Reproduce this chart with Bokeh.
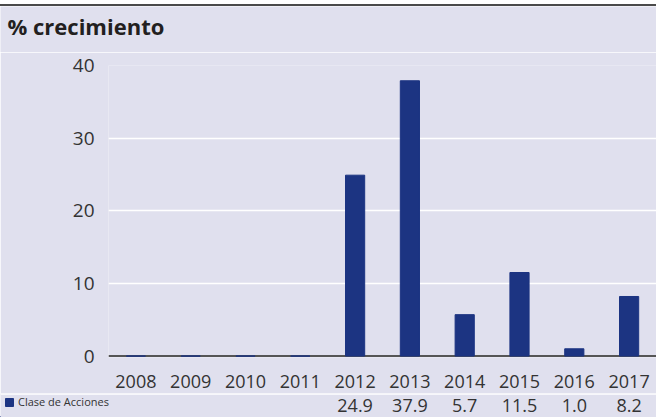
from bokeh.plotting import figure
from bokeh.layouts import column
from bokeh.models import (Range1d, FixedTicker, Span, Legend, LegendItem,
                          ColumnDataSource, Label)
from bokeh.core.properties import value
from bokeh.embed import file_html
from bokeh.resources import INLINE

# ---- data ----
anios = ["2008", "2009", "2010", "2011", "2012", "2013", "2014", "2015", "2016", "2017"]
valores = [None, None, None, None, 24.9, 37.9, 5.7, 11.5, 1.0, 8.2]
serie = "Clase de Acciones"
titulo = "% crecimiento"
y_ticks = [0, 10, 20, 30, 40]

# ---- styles / layout ----
BG = "#e0e0ee"
NAVY = "#1c3482"
TXT = "#333333"
FONT = "Open Sans"
W = 656
LEFT = 108
UNIT = (W - LEFT) / 10.0
TOP_H = 46

pos = list(range(len(anios)))
alturas = [v if v is not None else 0 for v in valores]
etiquetas = ["" if v is None else f"{v:.1f}" for v in valores]

src = ColumnDataSource(dict(x=pos, top=alturas, lab=etiquetas))


def strip(h, xr):
    f = figure(width=W, height=h, output_backend="svg", toolbar_location=None,
               x_range=xr, y_range=Range1d(0, h),
               min_border_left=0, min_border_right=0,
               min_border_top=0, min_border_bottom=0,
               background_fill_color=BG, border_fill_color=BG,
               outline_line_color=None, x_axis_type=None, y_axis_type=None)
    f.frame_align = False
    f.grid.grid_line_color = None
    return f


# ================= title row =================
t = strip(TOP_H, Range1d(0, W))
t.add_layout(Label(x=7, y=27, text=titulo, text_font=FONT,
                   text_font_style="bold", text_font_size="22px",
                   text_color="#231f20", text_baseline="middle"))

# ================= main chart =================
p = figure(width=W, height=341, output_backend="svg", toolbar_location=None,
           x_range=Range1d(-0.5, 9.5), y_range=Range1d(-0.2, 40),
           min_border_left=LEFT, min_border_right=0,
           min_border_top=13, min_border_bottom=36,
           background_fill_color=BG, border_fill_color=BG,
           outline_line_color=None)
p.frame_align = False

p.xgrid.grid_line_color = None
p.ygrid.ticker = FixedTicker(ticks=[v for v in y_ticks if v != 0])
p.ygrid.grid_line_color = "white"
p.ygrid.grid_line_width = 1.5

p.add_layout(Span(location=0, dimension="width", line_color="#555555",
                  line_width=2, level="underlay"))

r = p.vbar(x="x", top="top", bottom=0, width=0.35, source=src,
           fill_color=NAVY, line_color=NAVY, line_width=1)

ya = p.yaxis[0]
ya.ticker = FixedTicker(ticks=y_ticks)
ya.axis_line_color = None
ya.major_tick_line_color = None
ya.minor_tick_line_color = None
ya.major_tick_out = 0
ya.major_tick_in = 0
ya.major_label_standoff = 14
ya.major_label_text_font = FONT
ya.major_label_text_font_size = "19px"
ya.major_label_text_color = TXT

xa = p.xaxis[0]
xa.ticker = FixedTicker(ticks=pos)
xa.major_label_overrides = {i: a for i, a in zip(pos, anios)}
xa.axis_line_color = None
xa.major_tick_line_color = None
xa.minor_tick_line_color = None
xa.major_tick_out = 0
xa.major_tick_in = 0
xa.major_label_standoff = 17
xa.major_label_text_font = FONT
xa.major_label_text_font_size = "18px"
xa.major_label_text_color = TXT

# ================= table row (legend + values) =================
q = strip(24, Range1d(-0.5 - LEFT / UNIT, 9.5))
q.add_layout(Span(location=23.6, dimension="width", line_color="white",
                  line_width=1.5))
q.text(x="x", y=12.5, text="lab", source=src, text_align="center",
       text_baseline="middle", text_font=value(FONT), text_font_size="18px",
       text_color=TXT)

sq = q.vbar(x=[-50], top=[1], width=1, fill_color=NAVY, line_color=NAVY)
legend = Legend(items=[LegendItem(label=serie, renderers=[sq])],
                location=(4, 8), orientation="horizontal",
                margin=0, padding=0, spacing=0,
                glyph_width=10, glyph_height=10, label_standoff=4,
                border_line_color=None, background_fill_alpha=0,
                label_text_font=FONT, label_text_font_size="11px",
                label_text_color=TXT)
q.add_layout(legend)

page = column(t, p, q, spacing=0,
              styles={"margin-top": "4px", "border-top": "2px solid #4a4a4a"})

open("out.html", "w").write(file_html(page, INLINE))
